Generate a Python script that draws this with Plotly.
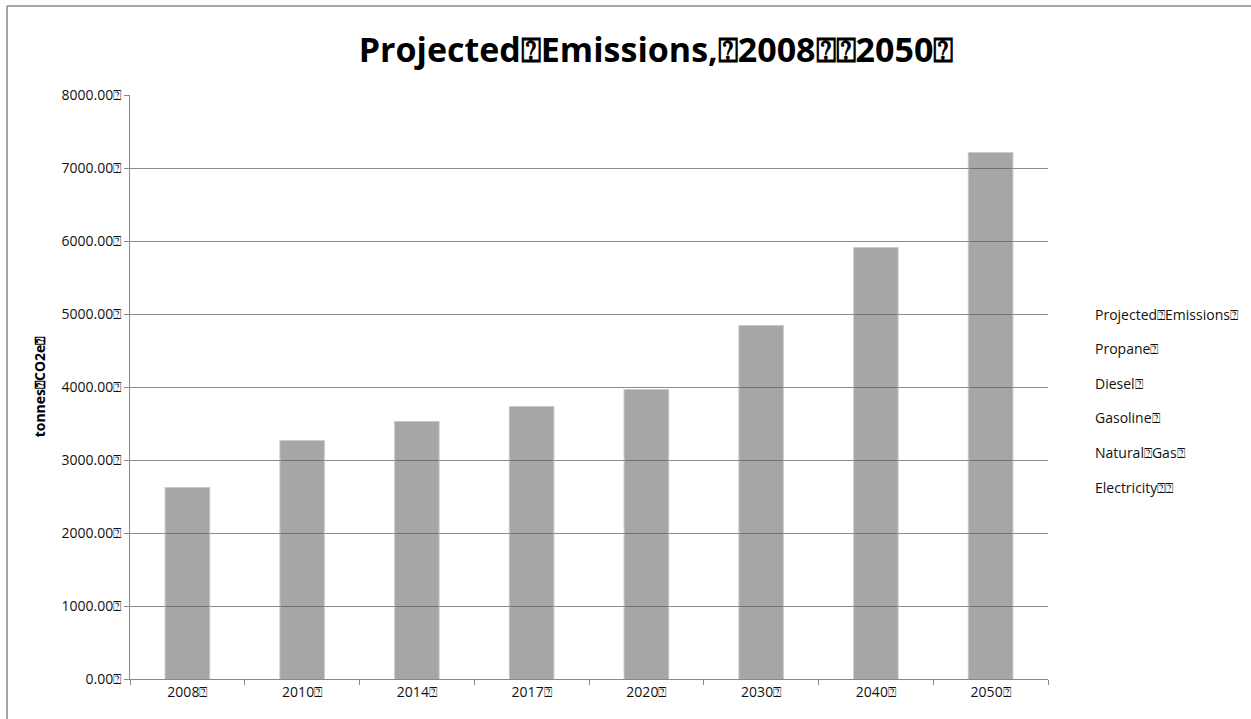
import plotly.graph_objects as go

BOX = "\u2370"  # missing-glyph style box as seen in the reference text

years = ["2008", "2010", "2014", "2017", "2020", "2030", "2040", "2050"]
projected_emissions = [2615, 3260, 3520, 3725, 3960, 4835, 5905, 7205]
y_ticks = [0, 1000, 2000, 3000, 4000, 5000, 6000, 7000, 8000]
y_tick_text = [f"{v:.2f}{BOX}" for v in y_ticks]
x_tick_text = [f"{y}{BOX}" for y in years]
legend_names = ["Projected" + BOX + "Emissions" + BOX, "Propane" + BOX, "Diesel" + BOX,
                "Gasoline" + BOX, "Natural" + BOX + "Gas" + BOX, "Electricity" + BOX + BOX]
title_text = "Projected" + BOX + "Emissions," + BOX + "2008" + BOX + BOX + "2050" + BOX
y_title = "tonnes" + BOX + "CO2e" + BOX

FONT = "'Open Sans', Lato, sans-serif"

fig = go.Figure()
fig.add_trace(go.Bar(
    x=years, y=projected_emissions,
    marker=dict(color="rgba(90,90,90,0.54)", line=dict(color="rgba(166,166,166,0.6)", width=2)),
    width=0.38, showlegend=False,
))

# legend entries as text
ann = []
for i, name in enumerate(legend_names):
    ann.append(dict(
        text=name, xref="paper", yref="paper",
        x=(1093 - 130) / 918, y=(679 - (314 + 34.6 * i)) / 584,
        xanchor="left", yanchor="middle", showarrow=False,
        font=dict(family=FONT, size=14, color="#111"),
    ))

fig.update_layout(
    width=1251, height=719,
    margin=dict(l=130, r=203, t=95, b=40),
    paper_bgcolor="white", plot_bgcolor="white",
    title=dict(text="<b>" + title_text + "</b>", x=656 / 1251, xanchor="center",
               y=1 - 50 / 719, yanchor="middle",
               font=dict(family=FONT, size=34, color="#000")),
    annotations=ann,
    shapes=[
        dict(type="line", xref="paper", yref="paper", x0=(7 - 130) / 918, x1=(7 - 130) / 918,
             y0=(679 - 719) / 584, y1=(679 - 6) / 584, line=dict(color="#888", width=1.5)),
        dict(type="line", xref="paper", yref="paper", x0=(7 - 130) / 918, x1=(1251 - 130) / 918,
             y0=(679 - 6) / 584, y1=(679 - 6) / 584, line=dict(color="#888", width=1.5)),
    ],
    bargap=0.6,
)
fig.update_xaxes(
    type="category", tickvals=years, ticktext=x_tick_text, tickson="boundaries",
    ticks="outside", ticklen=5, tickcolor="#888", showline=True, linecolor="#888",
    linewidth=1, showgrid=False, tickfont=dict(family=FONT, size=14, color="#111"),
)
fig.update_yaxes(
    range=[0, 8000], tickvals=y_ticks, ticktext=y_tick_text,
    ticks="outside", ticklen=5, tickcolor="#888", showline=True, linecolor="#888", linewidth=1,
    showgrid=True, gridcolor="#8a8a8a", gridwidth=1, zeroline=False,
    tickfont=dict(family=FONT, size=14, color="#111"),
    title=dict(text="<b>" + y_title + "</b>", font=dict(family=FONT, size=14, color="#000"), standoff=12),
)

fig.write_html("out.html")
